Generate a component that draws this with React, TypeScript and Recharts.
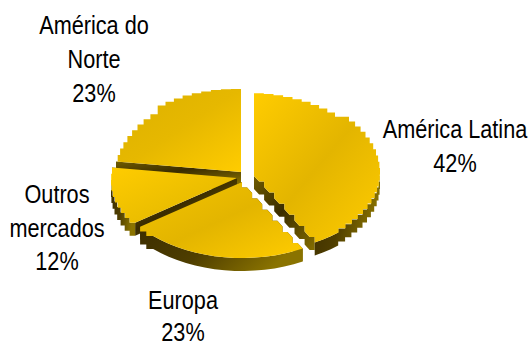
import React from "react";
import { PieChart, Pie } from "recharts";

// slices run counter-clockwise from 12 o'clock so nearer slices paint last
const names = ["América do Norte", "Outros mercados", "Europa", "América Latina"];
const shares = [23, 12, 23, 42];

const labelLines = [["América do", "Norte"], ["Outros", "mercados"], ["Europa"], ["América Latina"]];
const labelX = [94, 57, 183, 455];
const labelY = [34, 203, 309, 138];
const labelGap = [34, 33.7, 31.5, 34];

// how far each slice is pulled out of the pie
const explodeX = [0, -4, 1, 13];
const explodeY = [0, 6, 10, 4];

const topStops = [
  ["#dcb000", "#e6b800", "#ffcc00"],
  ["#ffcc00", "#eec000", "#e0b300"],
  ["#f4c400", "#e3b500", "#ffcc00"],
  ["#ffcc00", "#e3b500", "#ffcc00"],
];

const WIDTH = 529;
const HEIGHT = 343;
const RX = 126;
const RY_BACK = 83;
const RY_FRONT = 76;
const DEPTH = 13;
const STEP = 4.5;
const FONT_SIZE = 25.5;
const FONT_SQUEEZE = 0.85;

const chartData = names.map((name, i) => ({ name, value: shares[i] }));

type Pt = [number, number];

function rimPoint(cx: number, cy: number, deg: number): Pt {
  const a = (deg * Math.PI) / 180;
  const s = Math.sin(a);
  return [cx + RX * Math.cos(a), cy - (s >= 0 ? RY_BACK : RY_FRONT) * s];
}

// the rim is a coarse staircase everywhere except along the front
function rimPoints(cx: number, cy: number, from: number, to: number): Pt[] {
  const pts: Pt[] = [];
  const n = Math.max(2, Math.round((to - from) / STEP));
  for (let i = 0; i <= n; i++) {
    const deg = from + ((to - from) * i) / n;
    const p = rimPoint(cx, cy, deg);
    const prev = pts[pts.length - 1];
    const front = Math.sin((deg * Math.PI) / 180) < -0.72;
    if (prev && !front) {
      const nearSide = Math.abs(p[0] - cx) > RX * 0.7;
      pts.push(nearSide ? [prev[0], p[1]] : [p[0], prev[1]]);
    }
    pts.push(p);
  }
  return pts;
}

// cut running toward the lower right gets the same stepped look, others stay straight
function edgePoints(a: Pt, b: Pt, stepped: boolean): Pt[] {
  if (!stepped) return [a, b];
  const pts: Pt[] = [a];
  const n = 12;
  for (let i = 1; i <= n; i++) {
    const t = i / n;
    const p: Pt = [a[0] + (b[0] - a[0]) * t, a[1] + (b[1] - a[1]) * t];
    const prev = pts[pts.length - 1];
    if (i % 2 === 0) pts.push([p[0], prev[1]]);
    pts.push(p);
  }
  return pts;
}

const toPath = (pts: Pt[]) =>
  "M" + pts.map((p) => `${p[0].toFixed(1)},${p[1].toFixed(1)}`).join("L") + "Z";

const drop = (pts: Pt[]): Pt[] => pts.map((p) => [p[0], p[1] + DEPTH] as Pt);

const isDiagonal = (deg: number) => {
  const d = ((deg % 360) + 360) % 360;
  return d > 280 && d < 340;
};

function SliceShape(props: any) {
  const { cx, cy, startAngle, endAngle, index } = props;
  const x = cx + explodeX[index];
  const y = cy + explodeY[index];
  const rim = rimPoints(x, y, startAngle, endAngle);
  const stops = topStops[index];

  // front wall only covers the part of the arc facing down
  const wallFrom = Math.max(startAngle, 180);
  const wallTo = Math.min(endAngle, 360);
  const wall = wallTo > wallFrom ? rimPoints(x, y, wallFrom, wallTo) : [];

  const vertex: Pt = [x, y];
  const first = rim[0];
  const last = rim[rim.length - 1];
  const startEdge = edgePoints(vertex, first, isDiagonal(startAngle));
  const endEdge = edgePoints(last, vertex, isDiagonal(endAngle));
  const cuts = [startEdge, endEdge];

  return (
    <g>
      <defs>
        <linearGradient id={`top-${index}`} x1="0" y1="0" x2="1" y2="1">
          <stop offset="0" stopColor={stops[0]} />
          <stop offset="0.5" stopColor={stops[1]} />
          <stop offset="1" stopColor={stops[2]} />
        </linearGradient>
        <linearGradient id={`wall-${index}`} x1="0" y1="0" x2="1" y2="0.3">
          <stop offset="0" stopColor="#3c2e00" />
          <stop offset="0.5" stopColor="#4f3e00" />
          <stop offset="1" stopColor="#8a7300" />
        </linearGradient>
        <linearGradient id={`cut-${index}`} x1="0" y1="0" x2="1" y2="1">
          <stop offset="0" stopColor="#6f5b00" />
          <stop offset="0.45" stopColor="#3a2c00" />
          <stop offset="1" stopColor="#8a7300" />
        </linearGradient>
      </defs>
      {cuts.map((c, i) => (
        <path key={i} d={toPath([...c, ...drop(c).reverse()])} fill={`url(#cut-${index})`} />
      ))}
      {wall.length > 0 && (
        <path d={toPath([...wall, ...drop(wall).reverse()])} fill={`url(#wall-${index})`} />
      )}
      <path d={toPath([...startEdge.slice(0, -1), ...rim, ...endEdge.slice(1)])} fill={`url(#top-${index})`} />
    </g>
  );
}

function SliceLabel(props: any) {
  const { index, value } = props;
  const lines = [...labelLines[index], `${value}%`];
  return (
    <g>
      {lines.map((line, i) => (
        <text
          key={i}
          transform={`translate(${labelX[index]} ${labelY[index] + i * labelGap[index]}) scale(${FONT_SQUEEZE} 1)`}
          textAnchor="middle"
          fontFamily="'Liberation Sans', Arial, sans-serif"
          fontSize={FONT_SIZE}
          fill="#000"
        >
          {line}
        </text>
      ))}
    </g>
  );
}

export default function App() {
  return (
    <div style={{ position: "absolute", left: 0, top: 0, width: WIDTH, height: HEIGHT, background: "#fff" }}>
      <PieChart width={WIDTH} height={HEIGHT} margin={{ top: 0, right: 0, bottom: 0, left: 0 }}>
        <Pie
          data={chartData}
          dataKey="value"
          nameKey="name"
          cx={241}
          cy={172}
          outerRadius={RX}
          startAngle={90}
          endAngle={450}
          stroke="none"
          shape={SliceShape}
          label={SliceLabel}
          labelLine={false}
          isAnimationActive={false}
        />
      </PieChart>
    </div>
  );
}
